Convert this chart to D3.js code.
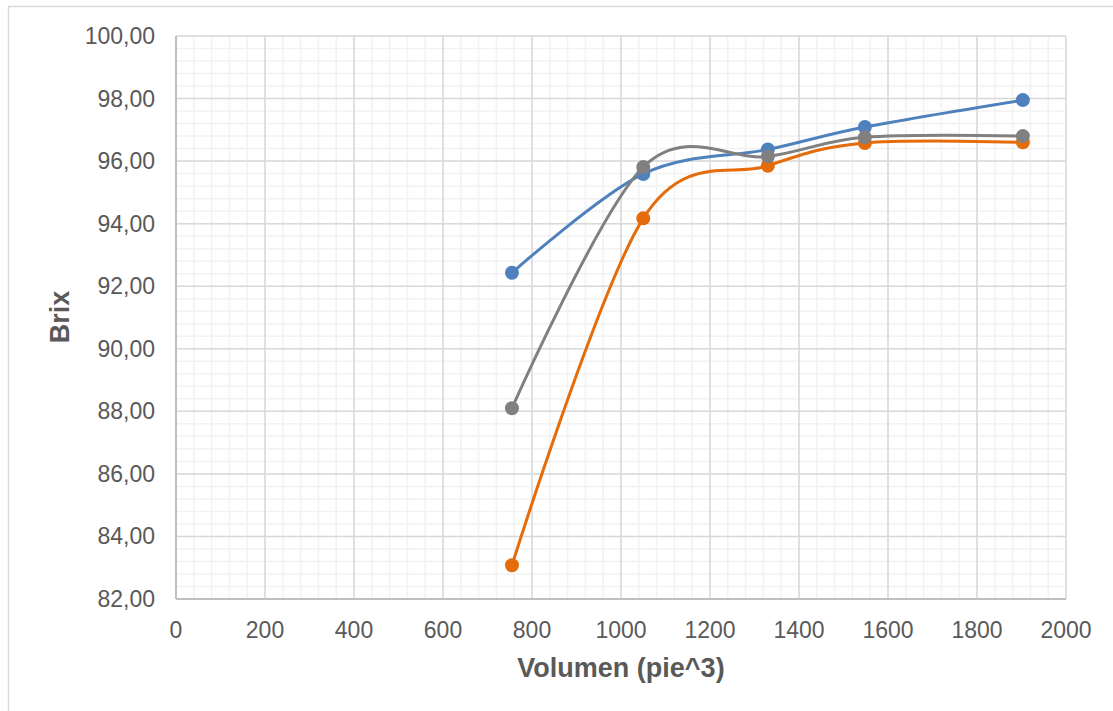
<!DOCTYPE html>
<html>
<head>
<meta charset="utf-8">
<script src="https://cdn.jsdelivr.net/npm/d3@7"></script>
<style>
  body { margin: 0; background: #fff; }
  svg { display: block; font-family: "Liberation Sans", Arial, sans-serif; }
</style>
</head>
<body>
<div id="graph"></div>
<script>
// data
var volumen = [755, 1050, 1330, 1548, 1903];
var brixBlue = [92.43, 95.59, 96.37, 97.09, 97.95];
var brixOrange = [83.08, 94.17, 95.85, 96.58, 96.60];
var brixGray = [88.10, 95.81, 96.15, 96.76, 96.80];
var xTicks = [0, 200, 400, 600, 800, 1000, 1200, 1400, 1600, 1800, 2000];
var yTicks = [82, 84, 86, 88, 90, 92, 94, 96, 98, 100];

var width = 1113, height = 711;
var plotLeft = 176, plotRight = 1066, plotTop = 36, plotBottom = 599;

var svg = d3.select("#graph").append("svg")
    .attr("width", width)
    .attr("height", height);

// outer chart border (only left/top visible in the crop)
svg.append("rect")
    .attr("x", 8.5).attr("y", 6.5)
    .attr("width", 1300).attr("height", 900)
    .attr("fill", "none")
    .attr("stroke", "#d9d9d9")
    .attr("stroke-width", 1.5);

var x = d3.scaleLinear().domain([0, 2000]).range([plotLeft, plotRight]);
var y = d3.scaleLinear().domain([82, 100]).range([plotBottom, plotTop]);

// minor grid
var xMinor = d3.range(0, 2001, 40);
var yMinor = d3.range(0, 46).map(function(i) { return 82 + i * 0.4; });

svg.append("g").selectAll("line")
    .data(xMinor)
    .enter().append("line")
    .attr("x1", function(d) { return x(d); })
    .attr("x2", function(d) { return x(d); })
    .attr("y1", plotTop).attr("y2", plotBottom)
    .attr("stroke", "#f2f2f2").attr("stroke-width", 1.5);

svg.append("g").selectAll("line")
    .data(yMinor)
    .enter().append("line")
    .attr("x1", plotLeft).attr("x2", plotRight)
    .attr("y1", function(d) { return y(d); })
    .attr("y2", function(d) { return y(d); })
    .attr("stroke", "#f2f2f2").attr("stroke-width", 1.5);

// major grid
svg.append("g").selectAll("line")
    .data(xTicks)
    .enter().append("line")
    .attr("x1", function(d) { return x(d); })
    .attr("x2", function(d) { return x(d); })
    .attr("y1", plotTop).attr("y2", plotBottom)
    .attr("stroke", "#d9d9d9").attr("stroke-width", 1.5);

svg.append("g").selectAll("line")
    .data(yTicks)
    .enter().append("line")
    .attr("x1", plotLeft).attr("x2", plotRight)
    .attr("y1", function(d) { return y(d); })
    .attr("y2", function(d) { return y(d); })
    .attr("stroke", "#d9d9d9").attr("stroke-width", 1.5);

// axis lines
svg.append("line")
    .attr("x1", plotLeft).attr("x2", plotLeft).attr("y1", plotTop).attr("y2", plotBottom)
    .attr("stroke", "#bfbfbf").attr("stroke-width", 2);
svg.append("line")
    .attr("x1", plotLeft).attr("x2", plotRight).attr("y1", plotBottom).attr("y2", plotBottom)
    .attr("stroke", "#bfbfbf").attr("stroke-width", 2);

// tick labels
svg.append("g").selectAll("text")
    .data(xTicks)
    .enter().append("text")
    .attr("x", function(d) { return x(d); })
    .attr("y", 638)
    .attr("text-anchor", "middle")
    .attr("font-size", "23px")
    .attr("fill", "#595959")
    .text(function(d) { return d; });

svg.append("g").selectAll("text")
    .data(yTicks)
    .enter().append("text")
    .attr("x", 155)
    .attr("y", function(d) { return y(d) + 8; })
    .attr("text-anchor", "end")
    .attr("font-size", "23px")
    .attr("fill", "#595959")
    .text(function(d) { return d.toFixed(2).replace(".", ","); });

// axis titles
svg.append("text")
    .attr("x", 621).attr("y", 677)
    .attr("text-anchor", "middle")
    .attr("font-size", "27px")
    .attr("font-weight", "bold")
    .attr("fill", "#595959")
    .text("Volumen (pie^3)");

svg.append("text")
    .attr("transform", "translate(69," + 317 + ") rotate(-90)")
    .attr("text-anchor", "middle")
    .attr("font-size", "27px")
    .attr("font-weight", "bold")
    .attr("fill", "#595959")
    .text("Brix");

// series, drawn blue, orange, then gray on top
var series = [
    { values: brixBlue, color: "#4f81bd" },
    { values: brixOrange, color: "#e46c0a" },
    { values: brixGray, color: "#808080" }
];

var line = d3.line()
    .x(function(d) { return x(d[0]); })
    .y(function(d) { return y(d[1]); })
    .curve(d3.curveCatmullRom.alpha(0));

series.forEach(function(s) {
    var pts = volumen.map(function(v, i) { return [v, s.values[i]]; });
    svg.append("path")
        .datum(pts)
        .attr("d", line)
        .attr("fill", "none")
        .attr("stroke", s.color)
        .attr("stroke-width", 3)
        .attr("stroke-linecap", "round");
    svg.append("g").selectAll("circle")
        .data(pts)
        .enter().append("circle")
        .attr("cx", function(d) { return x(d[0]); })
        .attr("cy", function(d) { return y(d[1]); })
        .attr("r", 7)
        .attr("fill", s.color);
});
</script>
</body>
</html>
